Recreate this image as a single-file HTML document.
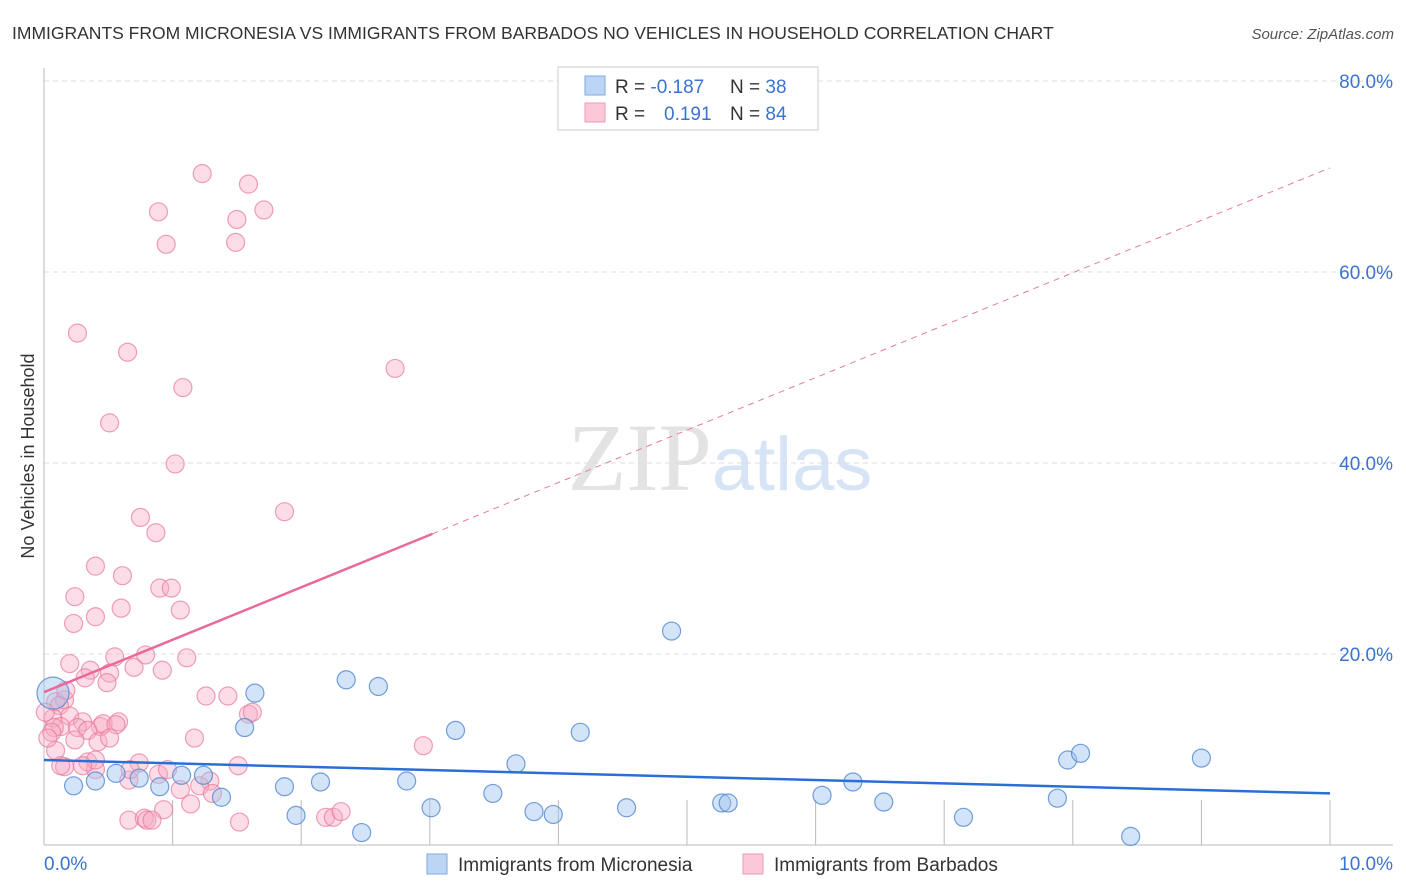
<!DOCTYPE html>
<html><head><meta charset="utf-8">
<style>
body{margin:0;background:#fff;font-family:"Liberation Sans",sans-serif;}
svg{display:block}
</style></head>
<body>
<svg id="chart" width="1406" height="892" viewBox="0 0 1406 892" xmlns="http://www.w3.org/2000/svg" font-family="Liberation Sans, sans-serif">
<text x="12" y="39" font-size="17.5" fill="#333">IMMIGRANTS FROM MICRONESIA VS IMMIGRANTS FROM BARBADOS NO VEHICLES IN HOUSEHOLD CORRELATION CHART</text>
<text x="1394" y="39" font-size="15" fill="#555" text-anchor="end" font-style="italic">Source: ZipAtlas.com</text>
<text x="720" y="490" font-size="96" text-anchor="middle" fill="#e3e3e3" font-family="Liberation Serif, serif">ZIP<tspan fill="#d6e4f5" font-family="Liberation Sans, sans-serif" font-size="76">atlas</tspan></text>
<text transform="translate(34,456) rotate(-90)" font-size="18" fill="#333" text-anchor="middle">No Vehicles in Household</text>
<g id="grid"></g>
<g id="axes"></g>
<g id="marks"></g>
<g>
<rect x="558" y="67" width="260" height="63" fill="#fff" stroke="#ccc"/>
<rect x="585" y="76" width="20" height="19" fill="#bcd5f5" stroke="#7fa9e0"/>
<rect x="585" y="103" width="20" height="19" fill="#fac8d6" stroke="#ee9ab4"/>
<text x="615" y="93" font-size="19" fill="#333">R = <tspan fill="#3a73d0">-0.187</tspan></text>
<text x="730" y="93" font-size="19" fill="#333">N = <tspan fill="#3a73d0">38</tspan></text>
<text x="615" y="120" font-size="19" fill="#333">R = </text>
<text x="664" y="120" font-size="19" fill="#3a73d0">0.191</text>
<text x="730" y="120" font-size="19" fill="#333">N = <tspan fill="#3a73d0">84</tspan></text>
</g>
<g>
<rect x="427" y="854" width="20" height="20" fill="#bcd5f5" stroke="#7fa9e0"/>
<text x="458" y="871" font-size="19" fill="#333">Immigrants from Micronesia</text>
<rect x="743" y="854" width="20" height="20" fill="#fac8d6" stroke="#ee9ab4"/>
<text x="774" y="871" font-size="19" fill="#333">Immigrants from Barbados</text>
</g>
</svg>
<script>
const yTicks=[20,40,60,80];
const yTickLabels=["20.0%","40.0%","60.0%","80.0%"];
const xEndLabels=["0.0%","10.0%"];
const blueX=[0.07,0.23,0.40,0.56,0.74,0.90,1.07,1.24,1.38,1.56,1.64,1.87,1.96,2.15,2.35,2.47,2.60,2.82,3.01,3.20,3.49,3.67,3.81,3.96,4.17,4.53,4.88,5.27,5.32,6.05,6.29,6.53,7.15,7.88,7.96,8.06,8.45,9.00];
const blueY=[15.9,6.2,6.7,7.5,7.0,6.1,7.3,7.3,5.0,12.3,15.9,6.1,3.1,6.6,17.3,1.3,16.6,6.7,3.9,12.0,5.4,8.5,3.5,3.2,11.8,3.9,22.4,4.4,4.4,5.2,6.6,4.5,2.9,4.9,8.9,9.6,0.9,9.1];
const pinkX=[1.23,1.59,0.89,1.71,1.50,0.95,1.49,0.26,0.65,2.73,1.08,0.51,1.02,0.75,1.87,0.87,0.40,0.61,0.24,0.90,0.99,0.23,0.40,0.60,1.06,0.20,0.55,1.11,0.36,0.70,0.92,0.32,0.51,0.49,1.26,0.09,0.16,0.12,1.59,1.62,0.07,0.20,0.30,0.44,0.46,0.58,0.56,0.13,0.08,0.26,0.34,0.24,0.42,0.51,1.17,0.06,0.09,2.95,0.74,0.34,0.16,0.13,0.40,0.89,1.29,0.66,1.06,1.21,1.14,1.31,1.51,0.93,0.66,0.78,0.80,0.84,1.52,2.19,2.25,2.31,0.40,0.30,0.67,0.96,0.01,0.03,0.17,0.79,1.43];
const pinkY=[70.3,69.2,66.3,66.5,65.5,62.9,63.1,53.6,51.6,49.9,47.9,44.2,39.9,34.3,34.9,32.7,29.2,28.2,26.0,26.9,26.9,23.2,23.9,24.8,24.6,19.0,19.7,19.6,18.3,18.6,18.3,17.5,18.0,17.0,15.6,15.0,15.2,14.6,13.7,13.9,13.3,13.5,12.9,12.4,12.7,12.9,12.6,12.4,12.3,12.3,12.0,11.0,10.8,11.2,11.2,11.8,9.9,10.4,8.6,8.7,8.2,8.3,7.9,7.4,6.7,6.8,5.8,6.2,4.3,5.4,8.3,3.7,2.6,2.8,2.6,2.6,2.4,2.9,2.9,3.5,8.9,8.3,7.9,7.9,13.9,11.2,16.2,19.9,15.6];
const blueTrend=[8.9,5.4];
const pinkTrend=[16.0,70.9];
const pinkSolidEnd=3.02;

const NS="http://www.w3.org/2000/svg";
const X0=44,X1=1330,Y0=845,PX=(X1-X0)/10,PY=191/20;
function sx(v){return X0+v*PX;}
function sy(v){return Y0-v*PY;}
function mk(tag,attrs,parent){const e=document.createElementNS(NS,tag);for(const k in attrs)e.setAttribute(k,attrs[k]);parent.appendChild(e);return e;}
const grid=document.getElementById('grid'),axes=document.getElementById('axes'),marks=document.getElementById('marks');
yTicks.forEach((t,i)=>{
  const l=mk('line',{x1:X0,x2:1393,y1:sy(t),y2:sy(t),stroke:'#ddd','stroke-dasharray':'5,4'},grid);
  
  
  const tx=mk('text',{x:1393,y:sy(t)+7,'font-size':19,fill:'#3a73d0','text-anchor':'end'},axes);
  tx.textContent=yTickLabels[i];
  
  
});
const la=mk('line',{x1:X0,x2:X0,y1:68,y2:Y0,stroke:'#bbb'},axes);


const lb=mk('line',{x1:X0,x2:1393,y1:Y0,y2:Y0,stroke:'#bbb'},axes);


for(let i=1;i<=10;i++){
  const t=mk('line',{x1:sx(i),x2:sx(i),y1:Y0-45,y2:Y0,stroke:'#bbb'},axes);
  
  
}
[[0,'start',44],[10,'end',1393]].forEach((a,i)=>{
  const t=mk('text',{x:a[2],y:870,'font-size':19,fill:'#3a73d0','text-anchor':a[1]},axes);
  t.textContent=xEndLabels[i];
  
  
});
pinkX.forEach((x,i)=>{
  const c=mk('circle',{cx:sx(x),cy:sy(pinkY[i]),r:9,fill:'rgba(247,170,195,0.4)',stroke:'rgba(232,120,155,0.7)','stroke-width':1.2},marks);
  
  
});
blueX.forEach((x,i)=>{
  const c=mk('circle',{cx:sx(x),cy:sy(blueY[i]),r:i===0?16:9,fill:'rgba(160,195,240,0.45)',stroke:'rgba(80,135,210,0.8)','stroke-width':1.2},marks);
  
  
});
const pSlope=(pinkTrend[1]-pinkTrend[0])/10;
const pd=mk('line',{x1:sx(pinkSolidEnd),y1:sy(pinkTrend[0]+pSlope*pinkSolidEnd),x2:sx(10),y2:sy(pinkTrend[1]),stroke:'#e8799c','stroke-width':1,'stroke-dasharray':'6,5'},marks);


const ps=mk('line',{x1:sx(0),y1:sy(pinkTrend[0]),x2:sx(pinkSolidEnd),y2:sy(pinkTrend[0]+pSlope*pinkSolidEnd),stroke:'#e8699a','stroke-width':2.5},marks);


const bt=mk('line',{x1:sx(0),y1:sy(blueTrend[0]),x2:sx(10),y2:sy(blueTrend[1]),stroke:'#2a6fd6','stroke-width':2.5},marks);


</script>
</body></html>
